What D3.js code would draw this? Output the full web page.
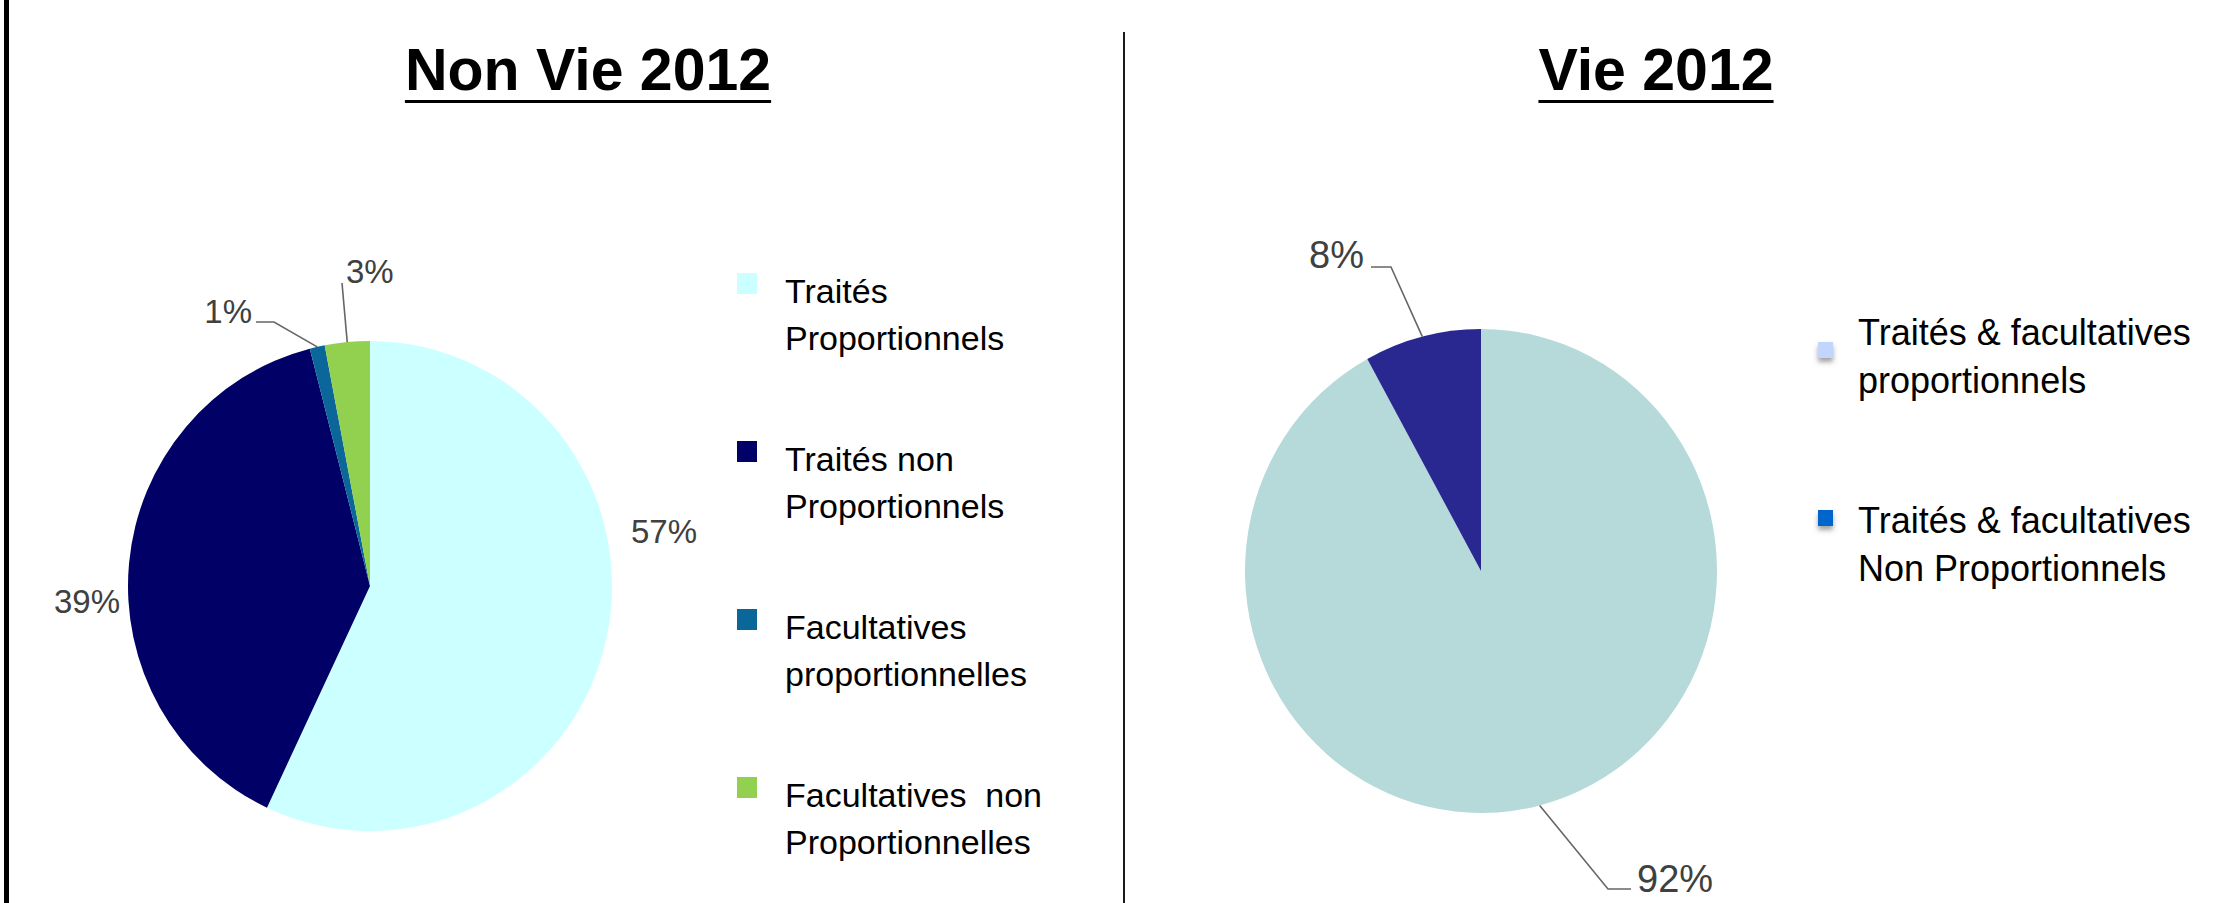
<!DOCTYPE html>
<html>
<head>
<meta charset="utf-8">
<script src="https://cdn.jsdelivr.net/npm/d3@7"></script>
<style>
  html, body { margin: 0; padding: 0; background: #fff; }
  text { font-family: "Liberation Sans", Arial, sans-serif; }
</style>
</head>
<body>
<script>
// ---- Non Vie 2012 ----
const nonVieCategories = [
  "Traités Proportionnels",
  "Traités non Proportionnels",
  "Facultatives proportionnelles",
  "Facultatives non Proportionnelles"
];
const nonVieValues = [57, 39, 1, 3];
const nonVieColors = ["#CCFFFF", "#000066", "#0B6699", "#92D050"];
const nonVieLegendLines = [
  ["Traités", "Proportionnels"],
  ["Traités non", "Proportionnels"],
  ["Facultatives", "proportionnelles"],
  ["Facultatives  non", "Proportionnelles"]
];

// ---- Vie 2012 ----
const vieCategories = [
  "Traités & facultatives proportionnels",
  "Traités & facultatives Non Proportionnels"
];
const vieValues = [92, 8];
const vieSliceColors = ["#B6DADA", "#282890"];
const vieLegendColors = ["#C2D5FA", "#0066CC"];
const vieLegendLines = [
  ["Traités & facultatives", "proportionnels"],
  ["Traités & facultatives", "Non Proportionnels"]
];

const W = 2233, H = 903;
const svg = d3.select("body").append("svg")
  .attr("width", W).attr("height", H)
  .attr("viewBox", `0 0 ${W} ${H}`);

svg.append("rect").attr("width", W).attr("height", H).attr("fill", "#fff");

// soft shadow for the Vie legend keys
const defs = svg.append("defs");
const shadow = defs.append("filter").attr("id", "keyShadow")
  .attr("x", "-60%").attr("y", "-60%").attr("width", "220%").attr("height", "240%");
shadow.append("feDropShadow")
  .attr("dx", 0).attr("dy", 4).attr("stdDeviation", 2.5)
  .attr("flood-color", "#555").attr("flood-opacity", 0.55);

// frame: left edge and central divider
svg.append("line").attr("x1", 6.5).attr("x2", 6.5).attr("y1", 0).attr("y2", H)
  .attr("stroke", "#000").attr("stroke-width", 5);
svg.append("line").attr("x1", 1124).attr("x2", 1124).attr("y1", 32).attr("y2", H)
  .attr("stroke", "#1a1a1a").attr("stroke-width", 2);

const pct = d3.format(".0%");

const panels = [
  {
    title: "Non Vie 2012", titleX: 588,
    cx: 370, cy: 586, rx: 242, ry: 245,
    categories: nonVieCategories, values: nonVieValues, colors: nonVieColors,
    labelSize: 33,
    labels: [
      { anchor: "start", dx: 261, dy: -43 },
      { anchor: "start", dx: -316, dy: 27 },
      { anchor: "end", dx: -118, dy: -263, leader: [[-96, -264], [-114, -264]] },
      { anchor: "start", dx: -24, dy: -303, leader: [[-28, -303]] }
    ],
    legend: {
      keyX: 737, keyW: 20, keyH: 21, textX: 785, y0: 303, step: 168,
      lineH: 47, fontSize: 34, keyOffsets: [-30, -30, -30, -30],
      lines: nonVieLegendLines, keyColors: nonVieColors, shadow: false
    }
  },
  {
    title: "Vie 2012", titleX: 1656,
    cx: 1481, cy: 571, rx: 236, ry: 242,
    categories: vieCategories, values: vieValues, colors: vieSliceColors,
    labelSize: 38,
    labels: [
      { anchor: "start", dx: 156, dy: 321, leader: [[127, 318], [150, 318]] },
      { anchor: "end", dx: -117, dy: -303, leader: [[-90, -304], [-110, -304]] }
    ],
    legend: {
      keyX: 1818, keyW: 15, keyH: 16, textX: 1858, y0: 345, step: 188,
      lineH: 48, fontSize: 36, keyOffsets: [-3, -23],
      lines: vieLegendLines, keyColors: vieLegendColors, shadow: true
    }
  }
];

panels.forEach(p => {
  // title with underline
  const t = svg.append("text")
    .attr("x", p.titleX).attr("y", 90)
    .attr("text-anchor", "middle")
    .attr("font-size", 59).attr("font-weight", "bold")
    .attr("fill", "#000")
    .text(p.title);
  const bb = t.node().getBBox();
  svg.append("line")
    .attr("x1", bb.x).attr("x2", bb.x + bb.width)
    .attr("y1", 101.5).attr("y2", 101.5)
    .attr("stroke", "#000").attr("stroke-width", 3);

  // pie
  const total = d3.sum(p.values);
  const arcs = d3.pie().sort(null).value(d => d)(p.values);
  const arc = d3.arc().innerRadius(0).outerRadius(p.rx);
  svg.append("g")
    .attr("transform", `translate(${p.cx},${p.cy}) scale(1,${p.ry / p.rx})`)
    .selectAll("path")
    .data(arcs)
    .join("path")
    .attr("d", arc)
    .attr("fill", (d, i) => p.colors[i]);

  // value labels and leader lines
  const g = svg.append("g").attr("transform", `translate(${p.cx},${p.cy})`);
  arcs.forEach((a, i) => {
    const lab = p.labels[i];
    if (lab.leader) {
      const mid = (a.startAngle + a.endAngle) / 2;
      const pts = [[p.rx * Math.sin(mid), -p.ry * Math.cos(mid)], ...lab.leader];
      g.append("path")
        .attr("d", d3.line()(pts))
        .attr("fill", "none")
        .attr("stroke", "#666")
        .attr("stroke-width", 1.6);
    }
    g.append("text")
      .attr("x", lab.dx).attr("y", lab.dy)
      .attr("text-anchor", lab.anchor)
      .attr("font-size", p.labelSize)
      .attr("fill", "#404040")
      .text(pct(a.data / total));
  });

  // legend
  const L = p.legend;
  const lg = svg.append("g");
  p.categories.forEach((c, i) => {
    const base = L.y0 + i * L.step;
    lg.append("rect")
      .attr("x", L.keyX).attr("y", base + L.keyOffsets[i])
      .attr("width", L.keyW).attr("height", L.keyH)
      .attr("fill", L.keyColors[i])
      .attr("filter", L.shadow ? "url(#keyShadow)" : null);
    const tx = lg.append("text")
      .attr("x", L.textX).attr("y", base)
      .attr("font-size", L.fontSize)
      .attr("fill", "#000")
      .style("white-space", "pre");
    L.lines[i].forEach((ln, j) => {
      tx.append("tspan")
        .attr("x", L.textX)
        .attr("y", base + j * L.lineH)
        .text(ln);
    });
  });
});
</script>
</body>
</html>
